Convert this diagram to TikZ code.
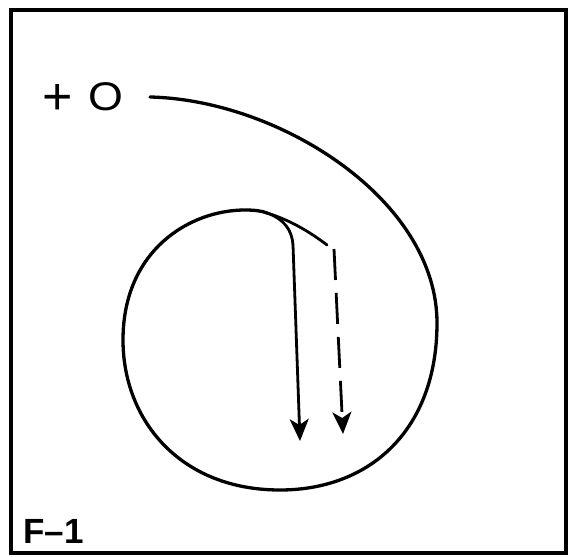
\documentclass[tikz,border=0pt]{standalone}
\usepackage{fontspec}
\setmainfont{Liberation Sans}
\usetikzlibrary{arrows.meta}
\begin{document}
\begin{tikzpicture}[x=1pt,y=-1pt,
  stroke/.style={line width=3.3pt, line cap=round, line join=round},
  thin stroke/.style={line width=2.8pt, line cap=round, line join=round},
  tip/.style={-{Stealth[length=22pt,width=19pt,inset=6pt]}},
  label/.style={inner sep=0pt}]
\useasboundingbox (0,0) rectangle (568,557);
\fill[white] (0,0) rectangle (568,557);
% frame
\draw[line width=3.5pt] (11,10) rectangle (566,553);
% labels
\node[label, font=\fontsize{52}{54}\selectfont, anchor=base] (plus) at (58,114) {+};
\node[label, font=\fontsize{40}{42}\selectfont, xscale=1.12, anchor=base] (zero) at (106,110) {O};
\node[label, font=\bfseries\fontsize{35}{37}\selectfont, anchor=base west] (fig) at (23,543) {F–1};
% main spiral
\coordinate (start) at (150,97);
\coordinate (right) at (437,323);
\coordinate (bottom) at (280,490);
\coordinate (left) at (123,340);
\coordinate (top) at (245,210);
\coordinate (split) at (267,213);
\draw[stroke] (start) .. controls (280,100) and (437,200) .. (right)
  .. controls (437,430) and (370,490) .. (bottom)
  .. controls (180,490) and (123,420) .. (left)
  .. controls (123,250) and (190,210) .. (top)
  .. controls (255,210) and (262,211) .. (split);
% solid branch
\coordinate (bend) at (293,245);
\coordinate (solidtip) at (300,441);
\draw[thin stroke] (split) .. controls (284,219) and (292,230) .. (bend);
\draw[thin stroke, tip] (bend) -- (solidtip);
% dashed branch
\coordinate (dend) at (327,245);
\coordinate (dstart) at (334,249);
\coordinate (dashtip) at (343,434);
\draw[thin stroke] (split) .. controls (290,220) and (310,232) .. (dend);
\draw[line width=2.8pt, dash pattern=on 31pt off 13pt, tip] (dstart) -- (dashtip);
\end{tikzpicture}
\end{document}
